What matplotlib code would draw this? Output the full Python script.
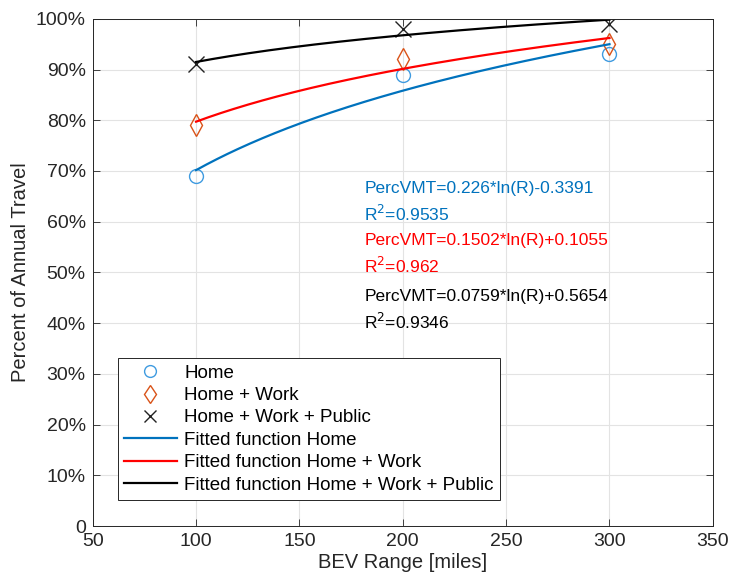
import numpy as np
import matplotlib
matplotlib.use('Agg')
from matplotlib import pyplot as plt

plt.rcParams['font.family'] = ['Liberation Sans', 'DejaVu Sans']

# data
ranges = [100, 200, 300]
home = [69, 89, 93]
home_work = [79, 92, 95]
home_work_public = [91, 98, 99]

# fitted coefficients PercVMT = a*ln(R) + b
coef_a = [0.226, 0.1502, 0.0759]
coef_b = [-0.3391, 0.1055, 0.5654]
r2 = ['0.9535', '0.962', '0.9346']
eq_texts = ['PercVMT=0.226*ln(R)-0.3391',
            'PercVMT=0.1502*ln(R)+0.1055',
            'PercVMT=0.0759*ln(R)+0.5654']

blue = '#0072BD'
orange = '#D95319'
fit_colors = [blue, 'red', 'black']

fig = plt.figure(figsize=(7.33, 5.88), dpi=100)
ax = fig.add_axes([0.1265, 0.1054, 0.846, 0.8626])

ax.plot(ranges, home, 'o', mfc='none', mec='#3f9be0', ms=10, mew=1.0, label='Home')
ax.plot(ranges, home_work, 'd', mfc='none', mec=orange, ms=11, mew=1.0, label='Home + Work')
ax.plot(ranges, home_work_public, 'x', color='#222222', ms=11, mew=1.0, label='Home + Work + Public')

names = ['Fitted function Home', 'Fitted function Home + Work', 'Fitted function Home + Work + Public']
r = np.linspace(100, 300, 200)
for a, b, c, n in zip(coef_a, coef_b, fit_colors, names):
    ax.plot(r, (a * np.log(r) + b) * 100, color=c, lw=1.6, label=n)

# annotations
ypos = [66.5, 56.2, 45.2]
for t, rr, c, y in zip(eq_texts, r2, fit_colors, ypos):
    ax.text(181.4, y, t, color=c, fontsize=12.5, va='center')
    ax.text(181.4, y - 5.0, 'R$^2$=' + rr, color=c, fontsize=12.5, va='center')

ax.set_xlim(50, 350)
ax.set_ylim(0, 100)
ax.set_xticks(range(50, 351, 50))
ax.set_yticks(range(0, 101, 10))
ax.set_yticklabels(['0'] + ['%d%%' % v for v in range(10, 101, 10)])
ax.tick_params(direction='in', top=True, right=True, labelsize=14, length=5, width=0.6,
               colors='#262626', pad=5)
ax.grid(True, color='#e3e3e3', lw=0.8)
ax.set_axisbelow(True)
for s in ax.spines.values():
    s.set_color('#262626')
    s.set_linewidth(0.7)

ax.set_xlabel('BEV Range [miles]', fontsize=14.5, color='#262626', labelpad=2)
ax.set_ylabel('Percent of Annual Travel', fontsize=14.5, color='#262626', labelpad=4)

leg = ax.legend(loc='lower left', bbox_to_anchor=(0.040, 0.051), fontsize=13.5,
                fancybox=False, edgecolor='#262626', handlelength=2.8, markerscale=0.85,
                borderpad=0.35, labelspacing=0.28, handletextpad=0.4, framealpha=1,
                borderaxespad=0)
leg.get_frame().set_linewidth(0.7)

fig.savefig('out.png', dpi=100)
